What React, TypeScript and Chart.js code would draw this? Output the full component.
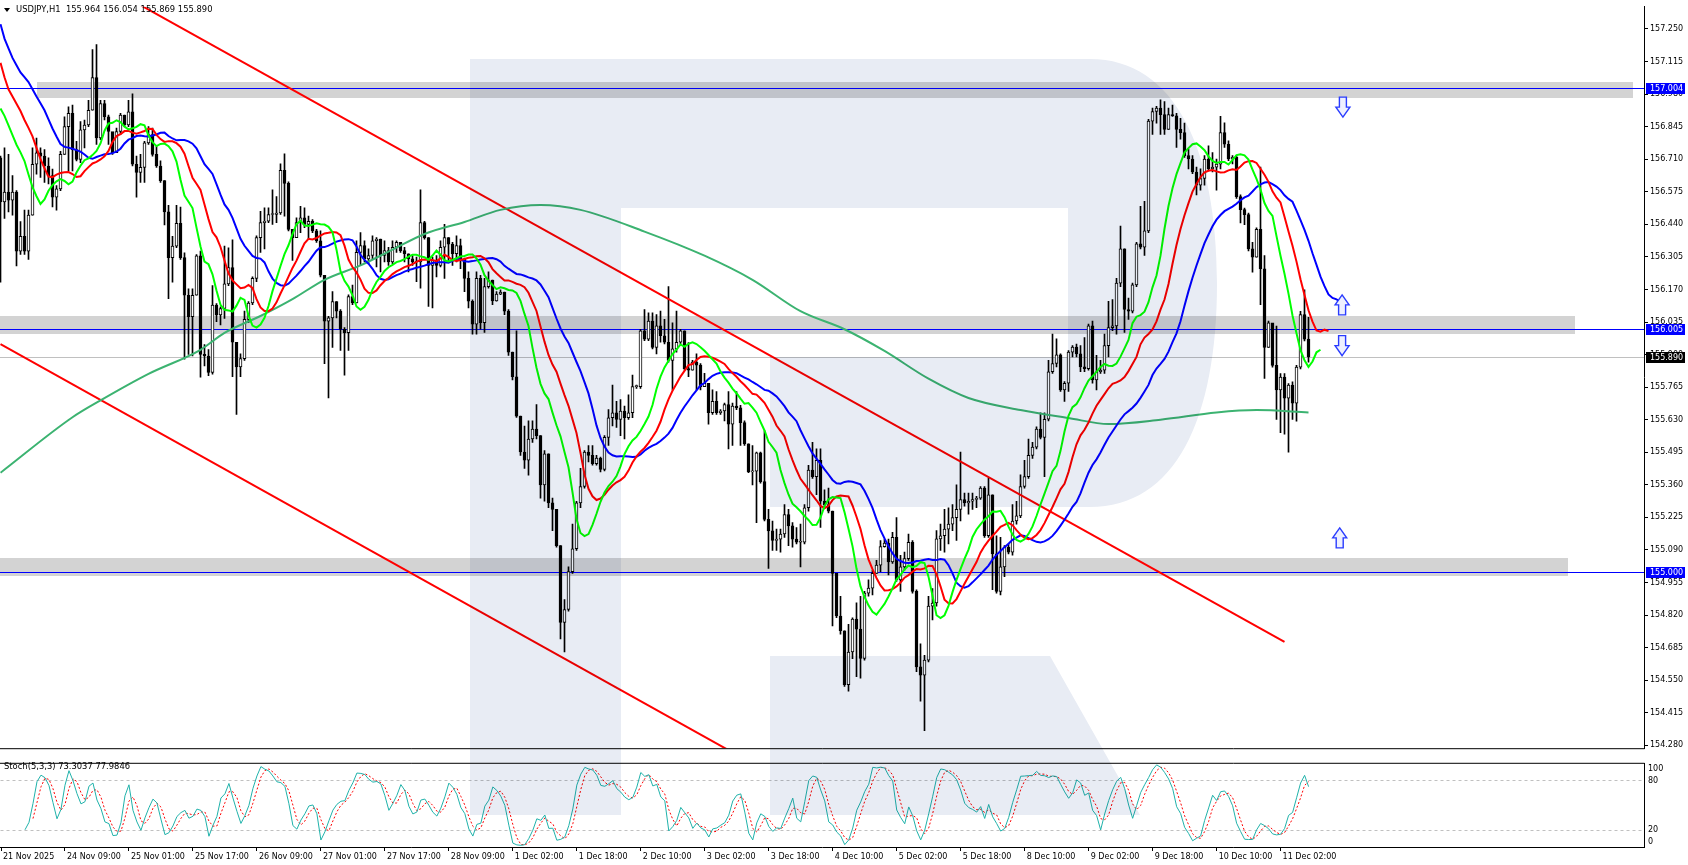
import React, { useEffect, useRef } from "react";
import { Chart, registerables } from "chart.js";

Chart.register(...registerables);

// ---------------- data ----------------
const symbolTitle = "USDJPY,H1  155.964 156.054 155.869 155.890";
const stochTitle = "Stoch(5,3,3) 73.3037 77.9846";

const firstOpen = 156.716;
const closes = [
  156.533, 156.574, 156.540, 156.574, 156.329, 156.390, 156.329, 156.478, 156.689, 156.737,
  156.723, 156.682, 156.642, 156.553, 156.587, 156.730, 156.845, 156.900, 156.750, 156.709,
  156.832, 156.852, 156.913, 157.049, 156.798, 156.941, 156.886, 156.825, 156.737, 156.825,
  156.893, 156.852, 156.907, 156.689, 156.655, 156.676, 156.778, 156.812, 156.730, 156.682,
  156.621, 156.492, 156.302, 156.350, 156.444, 156.302, 156.146, 156.057, 156.146, 156.309,
  155.901, 155.894, 155.826, 156.105, 156.064, 156.091, 156.193, 156.261, 155.951, 155.849,
  155.883, 156.046, 156.114, 156.216, 156.385, 156.447, 156.453, 156.481, 156.481, 156.487,
  156.664, 156.610, 156.419, 156.385, 156.447, 156.467, 156.440, 156.453, 156.413, 156.372,
  156.229, 156.039, 156.052, 156.120, 156.080, 156.005, 155.991, 156.141, 156.114, 156.324,
  156.352, 156.297, 156.311, 156.372, 156.379, 156.311, 156.331, 156.284, 156.345, 156.365,
  156.331, 156.318, 156.297, 156.284, 156.284, 156.447, 156.385, 156.270, 156.290, 156.270,
  156.345, 156.385, 156.358, 156.318, 156.352, 156.297, 156.216, 156.121, 156.026, 156.216,
  156.032, 156.182, 156.209, 156.123, 156.151, 156.159, 156.080, 155.910, 155.808, 155.645,
  155.496, 155.462, 155.550, 155.591, 155.564, 155.360, 155.489, 155.285, 155.258, 155.108,
  154.789, 154.843, 155.000, 155.095, 155.285, 155.353, 155.496, 155.482, 155.448, 155.471,
  155.424, 155.557, 155.638, 155.659, 155.631, 155.666, 155.638, 155.659, 155.767, 155.767,
  155.998, 155.964, 156.039, 155.930, 156.019, 155.978, 155.951, 155.876, 155.924, 155.951,
  155.998, 155.842, 155.835, 155.869, 155.856, 155.767, 155.781, 155.659, 155.706, 155.659,
  155.666, 155.693, 155.611, 155.686, 155.679, 155.618, 155.530, 155.414, 155.417, 155.493,
  155.373, 155.217, 155.169, 155.129, 155.135, 155.156, 155.237, 155.190, 155.135, 155.122,
  155.122, 155.265, 155.421, 155.394, 155.462, 155.292, 155.278, 155.251, 154.993, 154.816,
  154.755, 154.531, 154.667, 154.803, 154.762, 154.640, 154.911, 154.932, 154.993, 155.027,
  155.104, 155.118, 155.040, 155.142, 154.966, 155.020, 155.054, 155.122, 154.918, 154.605,
  154.571, 154.633, 154.857, 154.870, 155.136, 155.149, 155.176, 155.197, 155.224, 155.258,
  155.299, 155.285, 155.292, 155.299, 155.305, 155.346, 155.149, 155.319, 155.074, 154.918,
  155.020, 155.102, 155.081, 155.210, 155.231, 155.353, 155.394, 155.482, 155.516, 155.591,
  155.557, 155.632, 155.829, 155.863, 155.899, 155.754, 155.781, 155.910, 155.931, 155.903,
  155.849, 155.842, 156.019, 155.795, 155.829, 155.835, 155.937, 156.012, 156.019, 156.196,
  156.338, 156.087, 156.080, 156.189, 156.359, 156.345, 156.413, 156.868, 156.908, 156.922,
  156.895, 156.834, 156.895, 156.890, 156.834, 156.820, 156.725, 156.711, 156.657, 156.602,
  156.630, 156.711, 156.670, 156.677, 156.690, 156.820, 156.772, 156.711, 156.718, 156.555,
  156.501, 156.480, 156.338, 156.304, 156.419, 156.256, 155.930, 156.032, 155.855, 155.753,
  155.807, 155.719, 155.774, 155.699, 155.848, 156.066, 155.964, 155.890,
];
const highs = [
  156.723, 156.757, 156.730, 156.642, 156.580, 156.451, 156.499, 156.499, 156.757, 156.798,
  156.757, 156.750, 156.716, 156.669, 156.601, 156.743, 156.886, 156.927, 156.934, 156.784,
  156.866, 156.872, 156.954, 157.165, 157.185, 156.954, 156.954, 156.893, 156.812, 156.839,
  156.900, 156.893, 156.954, 156.981, 156.723, 156.730, 156.784, 156.845, 156.839, 156.764,
  156.703, 156.621, 156.519, 156.390, 156.519, 156.512, 156.322, 156.173, 156.173, 156.315,
  156.329, 155.942, 155.921, 156.186, 156.112, 156.098, 156.350, 156.343, 156.376, 155.951,
  155.903, 156.080, 156.120, 156.222, 156.392, 156.494, 156.508, 156.508, 156.583, 156.555,
  156.691, 156.732, 156.616, 156.419, 156.467, 156.515, 156.508, 156.474, 156.460, 156.419,
  156.413, 156.229, 156.059, 156.161, 156.120, 156.087, 156.012, 156.148, 156.188, 156.372,
  156.406, 156.372, 156.338, 156.392, 156.385, 156.379, 156.372, 156.345, 156.372, 156.372,
  156.365, 156.345, 156.318, 156.311, 156.304, 156.583, 156.453, 156.385, 156.304, 156.311,
  156.372, 156.440, 156.385, 156.365, 156.392, 156.379, 156.300, 156.243, 156.127, 156.243,
  156.229, 156.216, 156.243, 156.209, 156.161, 156.168, 156.159, 156.087, 155.910, 155.998,
  155.645, 155.604, 155.625, 155.625, 155.693, 155.564, 155.502, 155.489, 155.305, 155.258,
  155.108, 154.884, 155.020, 155.197, 155.292, 155.428, 155.502, 155.523, 155.523, 155.482,
  155.475, 155.564, 155.672, 155.774, 155.706, 155.713, 155.686, 155.733, 155.815, 155.774,
  156.005, 156.087, 156.073, 156.073, 156.066, 156.080, 156.046, 156.182, 156.032, 156.080,
  156.005, 155.998, 155.950, 155.876, 155.903, 155.863, 155.822, 155.781, 155.754, 155.747,
  155.672, 155.699, 155.747, 155.699, 155.747, 155.690, 155.625, 155.530, 155.523, 155.496,
  155.496, 155.584, 155.258, 155.210, 155.176, 155.176, 155.278, 155.258, 155.203, 155.183,
  155.197, 155.278, 155.441, 155.536, 155.509, 155.509, 155.339, 155.346, 155.251, 154.993,
  154.898, 154.755, 154.782, 154.809, 154.871, 154.898, 154.918, 154.966, 155.006, 155.047,
  155.129, 155.135, 155.135, 155.163, 155.224, 155.068, 155.081, 155.156, 155.129, 154.925,
  154.701, 154.653, 154.898, 154.930, 155.170, 155.197, 155.258, 155.265, 155.278, 155.360,
  155.496, 155.326, 155.326, 155.326, 155.312, 155.353, 155.353, 155.387, 155.319, 155.149,
  155.142, 155.108, 155.115, 155.278, 155.292, 155.401, 155.462, 155.550, 155.536, 155.600,
  155.659, 155.659, 155.876, 155.985, 155.965, 155.903, 155.788, 155.917, 155.937, 155.944,
  155.937, 155.971, 156.026, 156.039, 155.897, 155.876, 155.985, 156.121, 156.128, 156.216,
  156.433, 156.338, 156.134, 156.196, 156.365, 156.515, 156.535, 156.875, 156.922, 156.929,
  156.956, 156.949, 156.922, 156.935, 156.900, 156.880, 156.860, 156.752, 156.725, 156.677,
  156.670, 156.725, 156.766, 156.738, 156.711, 156.888, 156.861, 156.786, 156.725, 156.725,
  156.562, 156.507, 156.487, 156.365, 156.426, 156.677, 156.310, 156.039, 156.025, 156.018,
  155.821, 155.821, 155.780, 155.787, 155.855, 156.079, 156.168, 156.054,
];
const lows = [
  156.200, 156.465, 156.492, 156.478, 156.268, 156.315, 156.315, 156.295, 156.478, 156.648,
  156.635, 156.614, 156.608, 156.512, 156.499, 156.580, 156.730, 156.662, 156.662, 156.703,
  156.696, 156.757, 156.845, 156.913, 156.771, 156.791, 156.873, 156.771, 156.730, 156.737,
  156.812, 156.845, 156.845, 156.682, 156.553, 156.614, 156.614, 156.771, 156.723, 156.676,
  156.614, 156.438, 156.132, 156.200, 156.343, 156.295, 155.881, 155.901, 155.894, 156.146,
  155.806, 155.853, 155.813, 155.819, 156.037, 156.023, 156.050, 156.186, 155.808, 155.652,
  155.808, 155.876, 156.032, 156.107, 156.202, 156.324, 156.338, 156.447, 156.440, 156.447,
  156.481, 156.474, 156.413, 156.290, 156.385, 156.406, 156.426, 156.379, 156.406, 156.365,
  156.222, 155.862, 155.720, 155.930, 156.052, 155.917, 155.815, 155.917, 156.107, 156.114,
  156.270, 156.284, 156.277, 156.297, 156.263, 156.243, 156.284, 156.270, 156.277, 156.324,
  156.324, 156.284, 156.243, 156.270, 156.202, 156.175, 156.379, 156.100, 156.093, 156.222,
  156.263, 156.216, 156.290, 156.270, 156.284, 156.256, 156.161, 156.094, 155.985, 155.985,
  156.005, 155.992, 156.175, 156.107, 156.121, 156.148, 156.066, 155.897, 155.795, 155.640,
  155.482, 155.428, 155.400, 155.536, 155.550, 155.305, 155.292, 155.265, 155.170, 155.101,
  154.721, 154.667, 154.836, 154.993, 155.088, 155.265, 155.346, 155.455, 155.441, 155.441,
  155.414, 155.418, 155.523, 155.604, 155.598, 155.564, 155.550, 155.631, 155.638, 155.760,
  155.760, 155.958, 155.958, 155.924, 155.903, 155.951, 155.944, 155.869, 155.754, 155.910,
  155.944, 155.835, 155.808, 155.835, 155.754, 155.754, 155.767, 155.611, 155.652, 155.652,
  155.652, 155.625, 155.509, 155.523, 155.672, 155.523, 155.523, 155.410, 155.360, 155.203,
  155.367, 155.210, 155.013, 155.088, 155.088, 155.081, 155.142, 155.108, 155.101, 155.115,
  155.020, 155.115, 155.251, 155.387, 155.319, 155.183, 155.265, 155.244, 154.775, 154.809,
  154.741, 154.524, 154.504, 154.639, 154.565, 154.558, 154.633, 154.898, 154.904, 154.993,
  155.000, 155.101, 154.986, 155.034, 154.959, 154.918, 155.006, 155.047, 154.911, 154.585,
  154.463, 154.341, 154.626, 154.800, 154.857, 155.088, 155.081, 155.115, 155.170, 155.129,
  155.210, 155.271, 155.238, 155.258, 155.265, 155.299, 155.142, 155.142, 154.925, 154.911,
  154.904, 154.979, 155.074, 155.068, 155.197, 155.224, 155.346, 155.387, 155.469, 155.509,
  155.550, 155.394, 155.625, 155.822, 155.849, 155.747, 155.706, 155.747, 155.890, 155.890,
  155.829, 155.829, 155.835, 155.781, 155.754, 155.822, 155.822, 155.890, 155.999, 155.985,
  156.182, 155.992, 156.046, 156.073, 156.182, 156.338, 156.311, 156.406, 156.813, 156.860,
  156.813, 156.813, 156.834, 156.888, 156.759, 156.793, 156.718, 156.670, 156.650, 156.562,
  156.582, 156.602, 156.664, 156.657, 156.582, 156.670, 156.759, 156.704, 156.691, 156.548,
  156.446, 156.439, 156.330, 156.242, 156.304, 156.107, 155.801, 155.930, 155.848, 155.631,
  155.576, 155.570, 155.495, 155.631, 155.624, 155.841, 155.957, 155.869,
];

// Alligator (jaw 13/8, teeth 8/5, lips 5/3) — values shown before the first computed point
const jawLead = [157.27, 157.21, 157.17, 157.13, 157.10, 157.07, 157.05, 157.03];
const jawSeed = 157.0;
const teethLead = [157.11, 157.05, 157.0, 156.97, 156.94];
const teethSeed = 156.91;
const lipsLead = [156.92, 156.89, 156.85];
const lipsSeed = 156.81;

// long moving average
const longMaBars = [0, 18, 25, 37, 50, 56, 65, 73, 81, 90, 98, 106, 116, 125, 135, 145, 161, 176, 188, 200, 211, 221, 232, 242, 255, 267, 277, 290, 304, 314, 327];
const longMaValues = [155.41, 155.64, 155.71, 155.82, 155.92, 155.99, 156.06, 156.13, 156.21, 156.27, 156.335, 156.40, 156.45, 156.50, 156.52, 156.50, 156.41, 156.31, 156.21, 156.08, 156.005, 155.915, 155.80, 155.72, 155.67, 155.637, 155.612, 155.63, 155.66, 155.67, 155.66];

const trendUpper = [{ bar: 30, price: 157.395 }, { bar: 321, price: 154.709 }];
const trendLower = [{ bar: 0, price: 155.943 }, { bar: 190, price: 154.186 }];

const levelLines = [157.004, 156.005, 155.0];
const currentPrice = 155.89;
const zoneBands = [
  { from: 156.963, to: 157.029, startBar: 9, endBar: 408 },
  { from: 155.985, to: 156.058, startBar: -1, endBar: 393.5 },
  { from: 154.98, to: 155.055, startBar: -1, endBar: 391.75 },
];
const priceTags = [
  { price: 157.004, color: "#0000ff" },
  { price: 156.005, color: "#0000ff" },
  { price: 155.0, color: "#0000ff" },
  { price: 155.89, color: "#000000" },
];
const arrowMarks = [
  { bar: 335.6, price: 156.926, dir: "down" },
  { bar: 335.4, price: 156.106, dir: "up" },
  { bar: 335.4, price: 155.937, dir: "down" },
  { bar: 334.8, price: 155.14, dir: "up" },
];

const priceTicks = [157.25, 157.115, 156.98, 156.845, 156.71, 156.575, 156.44, 156.305, 156.17, 156.035, 155.9, 155.765, 155.63, 155.495, 155.36, 155.225, 155.09, 154.955, 154.82, 154.685, 154.55, 154.415, 154.28];
const priceMin = 154.268;
const priceMax = 157.342;
const barMin = -0.125;
const barMax = 410.875;

const timeTickBars = [0, 16, 32, 48, 64, 80, 96, 112, 128, 144, 160, 176, 192, 208, 224, 240, 256, 272, 288, 304, 320];
const timeTickLabels = ["21 Nov 2025", "24 Nov 09:00", "25 Nov 01:00", "25 Nov 17:00", "26 Nov 09:00", "27 Nov 01:00", "27 Nov 17:00", "28 Nov 09:00", "1 Dec 02:00", "1 Dec 18:00", "2 Dec 10:00", "3 Dec 02:00", "3 Dec 18:00", "4 Dec 10:00", "5 Dec 02:00", "5 Dec 18:00", "8 Dec 10:00", "9 Dec 02:00", "9 Dec 18:00", "10 Dec 10:00", "11 Dec 02:00"];

const stochLevels = [80, 20];
const stochAxisLabels = [
  { value: 93.5, text: "100" },
  { value: 80, text: "80" },
  { value: 20, text: "20" },
  { value: 6.5, text: "0" },
];

// ---------------- derived series ----------------
const FONT = "'DejaVu Sans', sans-serif";
const opens = closes.map((c, i) => (i === 0 ? firstOpen : closes[i - 1]));
const wickData = closes.map((c, i) => ({ x: i, y: [lows[i], highs[i]] }));
const bodyData = closes.map((c, i) => ({ x: i, y: [Math.min(opens[i], c), Math.max(opens[i], c)] }));
const bodyColors = closes.map((c, i) => (c >= opens[i] ? "#ffffff" : "#000000"));

const medians = highs.map((h, i) => (h + lows[i]) / 2);
function alligator(lead: number[], seed: number, period: number, shift: number) {
  const pts: { x: number; y: number }[] = lead.map((v, j) => ({ x: j, y: v }));
  let s = seed;
  pts.push({ x: shift, y: s });
  for (let i = 1; i < medians.length; i++) {
    s = (s * (period - 1) + medians[i]) / period;
    pts.push({ x: i + shift, y: s });
  }
  return pts;
}
const jawPts = alligator(jawLead, jawSeed, 13, 8);
const teethPts = alligator(teethLead, teethSeed, 8, 5);
const lipsPts = alligator(lipsLead, lipsSeed, 5, 3);
const longMaPts = longMaBars.map((b, i) => ({ x: b, y: longMaValues[i] }));

const kVals: (number | null)[] = closes.map(() => null);
for (let i = 6; i < closes.length; i++) {
  let num = 0;
  let den = 0;
  for (let j = i - 2; j <= i; j++) {
    let lo = Infinity;
    let hi = -Infinity;
    for (let m = j - 4; m <= j; m++) {
      lo = Math.min(lo, lows[m]);
      hi = Math.max(hi, highs[m]);
    }
    num += closes[j] - lo;
    den += hi - lo;
  }
  kVals[i] = den > 0 ? (num / den) * 100 : 50;
}
const kPts: { x: number; y: number }[] = [];
const dPts: { x: number; y: number }[] = [];
kVals.forEach((k, i) => {
  if (k === null) return;
  kPts.push({ x: i, y: k });
  const a = kVals[i - 1];
  const b = kVals[i - 2];
  if (a !== null && a !== undefined && b !== null && b !== undefined) dPts.push({ x: i, y: (k + a + b) / 3 });
});

// ---------------- drawing helpers ----------------
function watermark(ctx: CanvasRenderingContext2D, dy: number) {
  ctx.save();
  ctx.globalCompositeOperation = "multiply";
  ctx.fillStyle = "rgb(232,236,244)";
  ctx.beginPath();
  ctx.rect(470, 59 - dy, 151, 756);
  ctx.moveTo(621, 59 - dy);
  ctx.lineTo(1090, 59 - dy);
  ctx.bezierCurveTo(1175, 59 - dy, 1217, 150 - dy, 1217, 283 - dy);
  ctx.bezierCurveTo(1217, 420 - dy, 1175, 507 - dy, 1090, 507 - dy);
  ctx.lineTo(770, 507 - dy);
  ctx.lineTo(770, 357 - dy);
  ctx.lineTo(1068, 357 - dy);
  ctx.lineTo(1068, 208 - dy);
  ctx.lineTo(621, 208 - dy);
  ctx.closePath();
  ctx.moveTo(770, 656 - dy);
  ctx.lineTo(1050, 656 - dy);
  ctx.lineTo(1140, 815 - dy);
  ctx.lineTo(770, 815 - dy);
  ctx.closePath();
  ctx.fill();
  ctx.restore();
}

function drawArrow(ctx: CanvasRenderingContext2D, cx: number, cy: number, dir: string) {
  const w = 14, h = 20, shaft = 7, head = 10;
  const s = dir === "up" ? 1 : -1;
  const tip = cy - (s * h) / 2;
  const base = cy + (s * h) / 2;
  const neck = tip + s * head;
  ctx.beginPath();
  ctx.moveTo(cx, tip);
  ctx.lineTo(cx + w / 2, neck);
  ctx.lineTo(cx + shaft / 2, neck);
  ctx.lineTo(cx + shaft / 2, base);
  ctx.lineTo(cx - shaft / 2, base);
  ctx.lineTo(cx - shaft / 2, neck);
  ctx.lineTo(cx - w / 2, neck);
  ctx.closePath();
  ctx.fillStyle = "#eef0ff";
  ctx.fill();
  ctx.strokeStyle = "#2a3cff";
  ctx.lineWidth = 1.4;
  ctx.stroke();
}

const mainPlugin = {
  id: "mainDecor",
  beforeDatasetsDraw(chart: any) {
    const { ctx, chartArea: a, scales } = chart;
    const x = scales.x, y = scales.y;
    ctx.save();
    ctx.fillStyle = "#d3d3d3";
    zoneBands.forEach((b) => {
      const x0 = Math.max(a.left, x.getPixelForValue(b.startBar));
      const x1 = Math.min(a.right, x.getPixelForValue(b.endBar));
      const y0 = Math.round(y.getPixelForValue(b.to));
      const y1 = Math.round(y.getPixelForValue(b.from));
      ctx.fillRect(Math.round(x0), y0, Math.round(x1 - x0), y1 - y0);
    });
    ctx.lineWidth = 1;
    const hline = (p: number, color: string) => {
      const yy = Math.round(y.getPixelForValue(p)) + 0.5;
      ctx.strokeStyle = color;
      ctx.beginPath();
      ctx.moveTo(a.left, yy);
      ctx.lineTo(a.right, yy);
      ctx.stroke();
    };
    hline(currentPrice, "#c0c0c0");
    levelLines.forEach((p) => hline(p, "#0000ff"));
    ctx.restore();
  },
  afterDatasetsDraw(chart: any) {
    const { ctx, scales } = chart;
    ctx.save();
    arrowMarks.forEach((m) => drawArrow(ctx, scales.x.getPixelForValue(m.bar), scales.y.getPixelForValue(m.price), m.dir));
    ctx.restore();
  },
  afterDraw(chart: any) {
    const { ctx, chartArea: a, scales } = chart;
    watermark(ctx, 0);
    ctx.save();
    // borders
    ctx.strokeStyle = "#000";
    ctx.lineWidth = 1;
    ctx.beginPath();
    ctx.moveTo(0, a.bottom + 0.5);
    ctx.lineTo(a.right + 0.5, a.bottom + 0.5);
    ctx.stroke();
    // price tags
    ctx.font = `8px ${FONT}`;
    ctx.textBaseline = "middle";
    ctx.textAlign = "left";
    priceTags.forEach((t) => {
      const yy = Math.round(scales.y.getPixelForValue(t.price));
      ctx.fillStyle = t.color;
      ctx.fillRect(a.right + 2, yy - 5, 39, 11);
      ctx.fillStyle = "#ffffff";
      ctx.fillText(t.price.toFixed(3), a.right + 6, yy + 0.5);
    });
    // title
    ctx.fillStyle = "#000";
    ctx.beginPath();
    ctx.moveTo(4, 8);
    ctx.lineTo(10, 8);
    ctx.lineTo(7, 12);
    ctx.closePath();
    ctx.fill();
    ctx.font = `8.4px ${FONT}`;
    ctx.fillText(symbolTitle, 16, 10);
    ctx.restore();
  },
};

const stochPlugin = {
  id: "stochDecor",
  beforeDatasetsDraw(chart: any) {
    const { ctx, chartArea: a, scales } = chart;
    ctx.save();
    ctx.strokeStyle = "#c0c0c0";
    ctx.lineWidth = 1;
    ctx.setLineDash([3, 3]);
    stochLevels.forEach((v) => {
      const yy = Math.round(scales.y.getPixelForValue(v)) + 0.5;
      ctx.beginPath();
      ctx.moveTo(a.left, yy);
      ctx.lineTo(a.right, yy);
      ctx.stroke();
    });
    ctx.restore();
  },
  afterDraw(chart: any) {
    const { ctx, chartArea: a } = chart;
    watermark(ctx, 755);
    ctx.save();
    ctx.strokeStyle = "#000";
    ctx.lineWidth = 1;
    ctx.beginPath();
    ctx.moveTo(0, a.top - 0.5);
    ctx.lineTo(a.right + 0.5, a.top - 0.5);
    ctx.stroke();
    ctx.fillStyle = "#000";
    ctx.font = `8.4px ${FONT}`;
    ctx.textBaseline = "middle";
    ctx.textAlign = "left";
    ctx.fillText(stochTitle, 4, 12);
    ctx.restore();
  },
};

export default function App() {
  const mainRef = useRef<HTMLCanvasElement>(null);
  const stochRef = useRef<HTMLCanvasElement>(null);

  useEffect(() => {
    const lineDs = (data: any, color: string, order: number, extra: any = {}) => ({
      type: "line",
      data,
      borderColor: color,
      borderWidth: 2,
      pointRadius: 0,
      fill: false,
      order,
      ...extra,
    });
    const main = new Chart(mainRef.current as HTMLCanvasElement, {
      type: "bar",
      data: {
        datasets: [
          lineDs(lipsPts, "#00ff00", 0),
          lineDs(teethPts, "#ff0000", 1),
          lineDs(jawPts, "#0000ff", 2),
          lineDs(longMaPts, "#3cb371", 3, { cubicInterpolationMode: "monotone" }),
          lineDs(trendUpper.map((p) => ({ x: p.bar, y: p.price })), "#ff0000", 4),
          lineDs(trendLower.map((p) => ({ x: p.bar, y: p.price })), "#ff0000", 5),
          {
            type: "bar",
            data: bodyData,
            backgroundColor: bodyColors,
            borderColor: "#000000",
            borderWidth: 1,
            borderSkipped: false,
            barThickness: 3,
            minBarLength: 1,
            grouped: false,
            order: 6,
          },
          {
            type: "bar",
            data: wickData,
            backgroundColor: "#000000",
            borderWidth: 0,
            barThickness: 1,
            minBarLength: 1,
            grouped: false,
            order: 7,
          },
        ] as any,
      },
      options: {
        responsive: false,
        animation: false,
        events: [],
        layout: { padding: { left: 0, right: 0, top: 0, bottom: 1 } },
        plugins: { legend: { display: false }, tooltip: { enabled: false } },
        scales: {
          x: { type: "linear", min: barMin, max: barMax, display: false, offset: false, grid: { offset: false } },
          y: {
            position: "right",
            min: priceMin,
            max: priceMax,
            afterBuildTicks: (s: any) => {
              s.ticks = priceTicks.map((v) => ({ value: v }));
            },
            afterFit: (s: any) => {
              s.width = 44;
            },
            grid: { drawOnChartArea: false, drawTicks: true, tickLength: 4, color: "#000000" },
            border: { display: true, color: "#000000" },
            ticks: {
              padding: 2,
              color: "#000000",
              font: { family: FONT, size: 8 },
              callback: (v: any) => Number(v).toFixed(3),
            },
          },
        },
      } as any,
      plugins: [mainPlugin as any],
    });

    const stoch = new Chart(stochRef.current as HTMLCanvasElement, {
      type: "line",
      data: {
        datasets: [
          { data: kPts, borderColor: "#20b2aa", borderWidth: 1, pointRadius: 0, fill: false, order: 0 },
          { data: dPts, borderColor: "#ff0000", borderWidth: 1, borderDash: [2, 2], pointRadius: 0, fill: false, order: 1 },
        ] as any,
      },
      options: {
        responsive: false,
        animation: false,
        events: [],
        layout: { padding: { left: 0, right: 0, top: 2, bottom: 0 } },
        plugins: { legend: { display: false }, tooltip: { enabled: false } },
        scales: {
          x: {
            type: "linear",
            min: barMin,
            max: barMax,
            afterBuildTicks: (s: any) => {
              s.ticks = timeTickBars.map((v) => ({ value: v }));
            },
            afterFit: (s: any) => {
              s.height = 18;
            },
            grid: { drawOnChartArea: false, drawTicks: true, tickLength: 4, color: "#000000" },
            border: { display: true, color: "#000000" },
            ticks: {
              autoSkip: false,
              maxRotation: 0,
              minRotation: 0,
              align: "start",
              padding: 1,
              labelOffset: 2,
              color: "#000000",
              font: { family: FONT, size: 8 },
              callback: (v: any) => {
                const k = timeTickBars.indexOf(Math.round(Number(v)));
                return k >= 0 ? timeTickLabels[k] : "";
              },
            },
          },
          y: {
            position: "right",
            min: 0,
            max: 100,
            afterBuildTicks: (s: any) => {
              s.ticks = stochAxisLabels.map((t) => ({ value: t.value }));
            },
            afterFit: (s: any) => {
              s.width = 44;
            },
            grid: { drawOnChartArea: false, drawTicks: false },
            border: { display: true, color: "#000000" },
            ticks: {
              padding: 4,
              color: "#000000",
              font: { family: FONT, size: 8 },
              callback: (v: any) => {
                const t = stochAxisLabels.find((q) => Math.abs(q.value - Number(v)) < 0.01);
                return t ? t.text : "";
              },
            },
          },
        },
      } as any,
      plugins: [stochPlugin as any],
    });

    return () => {
      main.destroy();
      stoch.destroy();
    };
  }, []);

  return (
    <div style={{ position: "fixed", left: 0, top: 0, width: 1688, height: 865, background: "#ffffff", overflow: "hidden" }}>
      <canvas ref={mainRef} width={1688} height={755} style={{ position: "absolute", left: 0, top: 0, display: "block" }} />
      <canvas ref={stochRef} width={1688} height={110} style={{ position: "absolute", left: 0, top: 755, display: "block" }} />
    </div>
  );
}
